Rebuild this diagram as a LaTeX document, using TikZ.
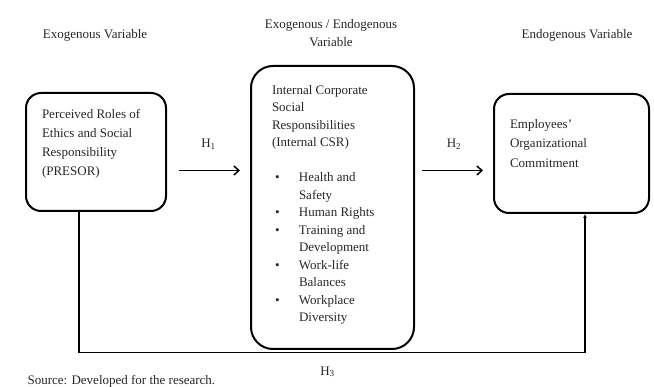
\documentclass[tikz,border=0pt]{standalone}
\usepackage{fontspec}
\setmainfont{Liberation Serif}
\usetikzlibrary{arrows.meta,calc}

\newcommand{\boxlines}[3]{\begin{minipage}[t][#2][t]{#1}\raggedright #3\end{minipage}}
\newcommand{\csritem}[1]{\par\hangindent=27pt\hangafter=1\noindent\makebox[27pt][l]{\hspace{3pt}\textbullet}#1}

\tikzset{
  varbox/.style={draw, line width=2pt, rounded corners=15pt, inner xsep=16pt, inner ysep=16pt, anchor=north west},
  hyparrow/.style={line width=1.5pt, -{Straight Barb[length=5pt,width=9pt]}, shorten <=12pt, shorten >=10pt},
  pathline/.style={line width=1.5pt},
  lbl/.style={align=center}
}

\begin{document}
\begin{tikzpicture}[x=1pt, y=-1pt, every node/.style={font=\fontsize{13}{17.5}\selectfont, text=black!85}]
 \useasboundingbox (0,0) rectangle (654,387);
 % column headings
 \node[lbl] (exohead) at (95,35) {Exogenous Variable};
 \node[lbl] (midhead) at (331,33) {Exogenous / Endogenous\\ Variable};
 \node[lbl] (endohead) at (577,35) {Endogenous Variable};
 % variable boxes
 \node[varbox] (presor) at (25,92) {\boxlines{108pt}{86pt}{\baselineskip=19pt Perceived Roles of\\ Ethics and Social\\ Responsibility\\ (PRESOR)}};
 \node[varbox, rounded corners=22pt, inner xsep=21pt, inner ysep=19pt] (csr) at (250,65) {\boxlines{121pt}{245pt}{Internal Corporate\\ Social\\ Responsibilities\\ (Internal CSR)\par\vspace{17.5pt}
  \csritem{Health and\newline Safety}
  \csritem{Human Rights}
  \csritem{Training and\newline Development}
  \csritem{Work-life\newline Balances}
  \csritem{Workplace\newline Diversity}}};
 \node[varbox, inner ysep=25pt] (endo) at (493,93) {\boxlines{123pt}{69pt}{\baselineskip=19.5pt Employees’\\ Organizational\\ Commitment}};
 % hypotheses
 \coordinate (arrowrow) at (0,170.5);
 \draw[hyparrow] (presor.east |- arrowrow) -- node[above=17pt] (h1) {H\textsubscript{1}} (csr.west |- arrowrow);
 \draw[hyparrow, shorten <=7pt] (csr.east |- arrowrow) -- node[above=17pt] (h2) {H\textsubscript{2}} (endo.west |- arrowrow);
 \coordinate (loopy) at (0,352.5);
 \draw[pathline, -{Latex[length=4pt,width=4pt]}] ([xshift=-17pt]presor.south) |- (loopy -| csr.south) node[below=10pt, xshift=-5pt] (h3) {H\textsubscript{3}} -| ([xshift=13.5pt]endo.south);
 \node[anchor=west] (source) at (24,381) {Source: Developed for the research.};
\end{tikzpicture}
\end{document}
